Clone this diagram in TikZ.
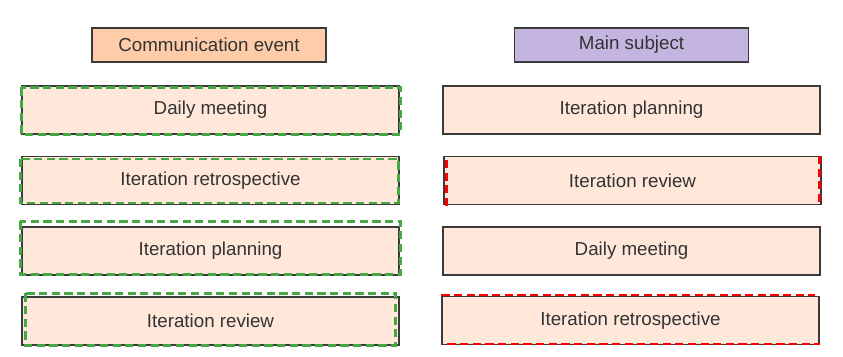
\documentclass[tikz,border=0pt]{standalone}
\usepackage{fontspec}
\setmainfont{Liberation Sans}
\usetikzlibrary{calc}

\definecolor{headPeach}{HTML}{FFCCAA}
\definecolor{headLilac}{HTML}{C3B5E0}
\definecolor{itemPeach}{HTML}{FFE8DA}
\definecolor{lineGrey}{HTML}{3A3A3A}
\definecolor{textGrey}{HTML}{333333}
\definecolor{dashGreen}{HTML}{45A845}
\definecolor{dashRed}{HTML}{FF0000}

\begin{document}
\begin{tikzpicture}[x=0.03cm, y=-0.03cm, font=\fontsize{16}{19}\selectfont, line join=miter]
    \useasboundingbox (0,0) rectangle (843,356);

    \tikzset{
        header/.style={draw=lineGrey, line width=0.9pt, text=textGrey, minimum width=7.02cm, minimum height=1.02cm, inner sep=0pt},
        item/.style={draw=lineGrey, fill=itemPeach, line width=0.9pt, text=textGrey, minimum width=11.31cm, minimum height=1.44cm, inner sep=0pt},
        greenDash/.style={draw=dashGreen, line width=2.2pt, dash pattern=on 7pt off 3.8pt},
        redDash/.style={draw=dashRed, line width=2.2pt, dash pattern=on 7pt off 3.8pt}
    }

    % Column headers
    \node[header, fill=headPeach] (HL) at (209,45) {Communication event};
    \node[header, fill=headLilac] (HR) at (631.5,45) {Main subject};

    % Communication events
    \node[item] (L1) at (210.5,110) {Daily meeting};
    \node[item] (L2) at (210.5,180.5) {Iteration retrospective};
    \node[item] (L3) at (210.5,251) {Iteration planning};
    \node[item] (L4) at (210.5,321) {Iteration review};

    % Main subjects
    \node[item] (R1) at (631.5,110) {Iteration planning};
    \node[item] (R2) at (632.5,180.5) {Iteration review};
    \node[item] (R3) at (631.5,251) {Daily meeting};
    \node[item] (R4) at (630.5,320.5) {Iteration retrospective};

    % Green dashed outlines
    \draw[greenDash] ($(L1.north west)+(0,2)$) rectangle ($(L1.south east)+(1,0)$);
    \draw[greenDash] ($(L2.north west)+(-1,3)$) rectangle ($(L2.south east)+(-1,-2)$);
    \draw[greenDash] ($(L3.north west)+(-1,-5)$) rectangle ($(L3.south east)+(1,-1)$);
    \draw[greenDash] ($(L4.north west)+(4,-3)$) rectangle ($(L4.south east)+(-4,0)$);

    % Red dashed outlines
    \draw[redDash] ($(R2.north west)+(3,4)$) -- ($(R2.south west)+(3,3)$);
    \draw[redDash] ($(R2.north east)+(-2,0)$) -- ($(R2.south east)+(-2,1)$);
    \draw[redDash] ($(R4.north west)+(0,-1)$) -- ($(R4.north east)+(-5,-1)$);
    \draw[redDash] ($(R4.south west)+(6,-1)$) -- ($(R4.south east)+(0,-1)$);
\end{tikzpicture}
\end{document}
